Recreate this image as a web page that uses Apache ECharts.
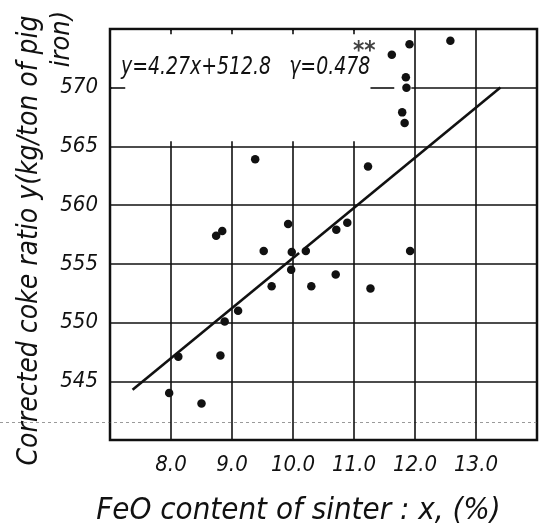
<!DOCTYPE html>
<html>
<head>
<meta charset="utf-8">
<script src="https://cdn.jsdelivr.net/npm/echarts@6/dist/echarts.min.js"></script>
<style>
html,body{margin:0;padding:0;background:#fff;}
#chart{width:540px;height:531px;}
</style>
</head>
<body>
<div id="chart"></div>
<script>
// ---- data ----
const feoContent = [7.97, 8.12, 8.50, 8.81, 8.88, 8.74, 8.84, 9.10, 9.38, 9.52, 9.65, 9.92, 9.98, 9.97, 10.21, 10.30, 10.71, 10.70, 10.89, 11.23, 11.27, 11.62, 11.91, 11.85, 11.86, 11.79, 11.83, 11.92, 12.58];
const cokeRatio  = [544.0, 547.1, 543.1, 547.2, 550.1, 557.4, 557.8, 551.0, 563.9, 556.1, 553.1, 558.4, 556.0, 554.5, 556.1, 553.1, 557.9, 554.1, 558.5, 563.3, 552.9, 572.8, 573.7, 570.9, 570.0, 567.9, 567.0, 556.1, 574.0];
const regSlope = 4.27;
const regIntercept = 512.8;
const regSegment1 = [7.37, 10.10];
const regSegment2 = [10.20, 13.40];
const xTickValues = [8, 9, 10, 11, 12, 13];
const xTickLabels = ['8.0', '9.0', '10.0', '11.0', '12.0', '13.0'];
const yTickValues = [545, 550, 555, 560, 565, 570];
const yTickLabels = ['545', '550', '555', '560', '565', '570'];
const equationText = 'y=4.27x+512.8   γ=0.478';
const signifText = '**';
const signifPos = [11.17, 573.1];
const yTitleMain = 'Corrected coke ratio y(kg/ton of pig';
const yTitleTail = 'iron)';
const xTitle = 'FeO content of sinter : x, (%)';

const FONT = "'DejaVu Sans Condensed', 'DejaVu Sans', sans-serif";
const INK = '#111';

const points = feoContent.map((x, i) => [x, cokeRatio[i]]);
const seg = s => s.map(x => [x, +(regSlope * x + regIntercept).toFixed(3)]);

const chart = echarts.init(document.getElementById('chart'), null, {renderer: 'canvas'});
chart.setOption({
  backgroundColor: '#fff',
  animation: false,
  grid: {left: 110, right: 2, top: 29, bottom: 89, show: true, borderColor: INK, borderWidth: 2.5, backgroundColor: 'transparent'},
  xAxis: {
    type: 'value', min: 7, max: 14, interval: 1,
    axisLine: {show: false}, axisTick: {show: false},
    splitLine: {show: true, lineStyle: {color: INK, width: 1.6}},
    axisLabel: {
      margin: 14, color: INK, fontSize: 22, fontStyle: 'italic', fontFamily: FONT,
      formatter: v => { const i = xTickValues.indexOf(Math.round(v * 10) / 10); return i >= 0 ? xTickLabels[i] : ''; }
    },
    name: xTitle, nameLocation: 'middle', nameGap: 55,
    nameTextStyle: {color: INK, fontSize: 31, fontStyle: 'italic', fontFamily: FONT, padding: [0, 50, 0, 0]}
  },
  yAxis: {
    type: 'value', min: 540, max: 575, interval: 5,
    axisLine: {show: false}, axisTick: {show: false},
    splitLine: {show: true, lineStyle: {color: INK, width: 1.6}},
    axisLabel: {
      margin: 12, color: INK, fontSize: 22, fontStyle: 'italic', fontFamily: FONT,
      formatter: v => { const i = yTickValues.indexOf(Math.round(v)); return i >= 0 ? yTickLabels[i] : ''; }
    },
    name: yTitleMain, nameLocation: 'middle', nameGap: 66,
    nameTextStyle: {color: INK, fontSize: 28, fontStyle: 'italic', fontFamily: FONT, padding: [0, 12, 0, 0]}
  },
  series: [
    {
      type: 'scatter', data: [], z: 1, silent: true,
      markArea: {
        silent: true,
        itemStyle: {color: '#fff', borderWidth: 0, opacity: 1},
        data: [[{coord: [7.03, 565.45]}, {coord: [11.94, 574.85]}]]
      },
      markLine: {
        silent: true, symbol: 'none',
        label: {show: false},
        lineStyle: {color: INK, width: 1.6, type: 'solid', opacity: 1},
        data: [
          [{coord: [7.0, 570]}, {coord: [7.25, 570]}],
          [{coord: [11.27, 570]}, {coord: [11.66, 570]}],
          [{coord: [8, 575]}, {coord: [8, 574.55]}],
          [{coord: [9, 575]}, {coord: [9, 574.55]}],
          [{coord: [10, 575]}, {coord: [10, 574.55]}],
          [{coord: [11, 575]}, {coord: [11, 574.55]}]
        ]
      }
    },
    {
      type: 'line', data: seg(regSegment1), z: 3, symbol: 'none',
      lineStyle: {color: INK, width: 2.6}
    },
    {
      type: 'line', data: seg(regSegment2), z: 3, symbol: 'none',
      lineStyle: {color: INK, width: 2.6}
    },
    {
      type: 'scatter', data: points, z: 4, symbol: 'circle', symbolSize: 8.5,
      itemStyle: {color: INK, opacity: 1}
    },
    {
      type: 'scatter', data: [signifPos], z: 4, symbolSize: 0,
      label: {show: true, position: 'inside', formatter: signifText, color: INK, fontSize: 24, fontWeight: 'bold', fontFamily: FONT}
    }
  ],
  graphic: [
    {type: 'text', x: 121, y: 67, scaleX: 0.84, z: 10,
     style: {text: equationText, fill: INK, font: 'italic 25px ' + FONT, textAlign: 'left', textVerticalAlign: 'middle'}},
    {type: 'text', x: 62, y: 39, rotation: Math.PI / 2, z: 10,
     style: {text: yTitleTail, fill: INK, font: 'italic 27px ' + FONT, textAlign: 'center', textVerticalAlign: 'middle'}},
    {type: 'line', z: 0, silent: true,
     shape: {x1: 0, y1: 422.5, x2: 540, y2: 422.5},
     style: {stroke: '#9a9a9a', lineWidth: 1, lineDash: [3, 3]}}
  ]
});
</script>
</body>
</html>
